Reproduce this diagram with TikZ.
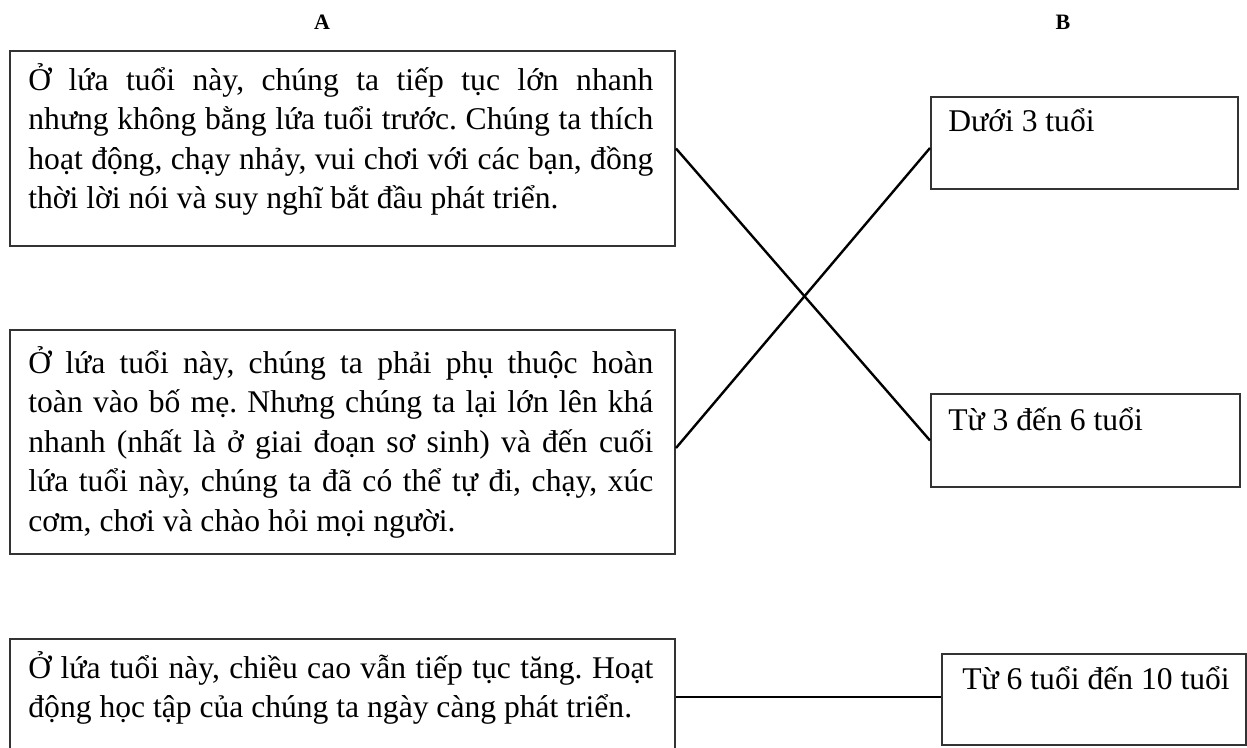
\documentclass[tikz,border=0pt]{standalone}
\usepackage{fontspec}
\setmainfont{Liberation Serif}
\setlength{\parindent}{0pt}
\frenchspacing

\newlength{\du}
\setlength{\du}{0.5pt}

\definecolor{boxline}{rgb}{0.200000, 0.200000, 0.200000}

\tikzset{
	agebox/.style={draw=boxline, line width=2\du, inner sep=0pt, anchor=north west},
	textpara/.style={anchor=north west, inner sep=0pt, text width=625\du, align=justify,
		font=\fontsize{15.8}{19.75}\selectfont},
	textline/.style={anchor=base west, inner sep=0pt, font=\fontsize{15.8}{19.75}\selectfont},
	colhead/.style={font=\fontsize{11}{13}\selectfont\bfseries},
	match/.style={draw=black, line width=2.4\du}
}

\begin{document}
\begin{tikzpicture}[x=\du, y=-\du]
	\useasboundingbox (0,0) rectangle (1247,748);
	% column heads
	\node[colhead] (headA) at (322,22) {A};
	\node[colhead] (headB) at (1063,22) {B};
	% column A
	\node[agebox, minimum width=665\du, minimum height=195\du] (a1) at (9,50) {};
	\node[textpara] (ta1) at (28,63) {Ở lứa tuổi này, chúng ta tiếp tục lớn nhanh\linebreak
		nhưng không bằng lứa tuổi trước. Chúng ta thích\linebreak
		hoạt động, chạy nhảy, vui chơi với các bạn, đồng\linebreak
		thời lời nói và suy nghĩ bắt đầu phát triển.};
	\node[agebox, minimum width=665\du, minimum height=224\du] (a2) at (9,329) {};
	\node[textpara] (ta2) at (28,346) {Ở lứa tuổi này, chúng ta phải phụ thuộc hoàn\linebreak
		toàn vào bố mẹ. Nhưng chúng ta lại lớn lên khá\linebreak
		nhanh (nhất là ở giai đoạn sơ sinh) và đến cuối\linebreak
		lứa tuổi này, chúng ta đã có thể tự đi, chạy, xúc\linebreak
		cơm, chơi và chào hỏi mọi người.};
	\node[agebox, minimum width=665\du, minimum height=116\du] (a3) at (9,638) {};
	\node[textpara] (ta3) at (28,651) {Ở lứa tuổi này, chiều cao vẫn tiếp tục tăng. Hoạt\linebreak
		động học tập của chúng ta ngày càng phát triển.};
	% column B
	\node[agebox, minimum width=307\du, minimum height=92\du] (b1) at (930,96) {};
	\node[textline] (tb1) at (948,132) {Dưới 3 tuổi};
	\node[agebox, minimum width=309\du, minimum height=93\du] (b2) at (930,393) {};
	\node[textline] (tb2) at (948,430) {Từ 3 đến 6 tuổi};
	\node[agebox, minimum width=304\du, minimum height=91\du] (b3) at (941,653) {};
	\node[textline] (tb3) at (962,689) {Từ 6 tuổi đến 10 tuổi};
	% matching lines
	\draw[match] (a1.east) -- (b2.west);
	\draw[match] ([yshift=-3pt]a2.east) -- ([yshift=-2.5pt]b1.west);
	\draw[match] (a3.east) -- (a3.east -| b3.west);
\end{tikzpicture}
\end{document}
